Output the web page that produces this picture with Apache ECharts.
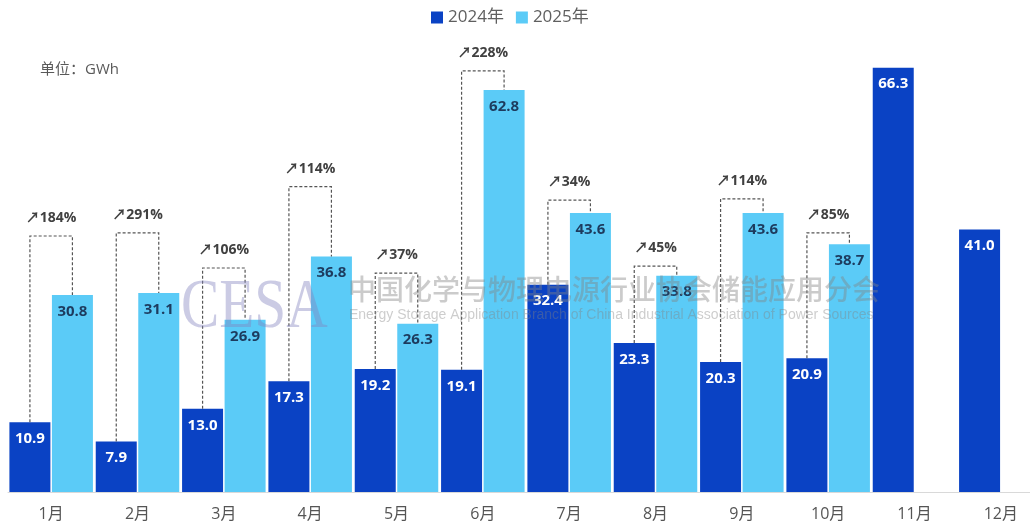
<!DOCTYPE html>
<html>
<head>
<meta charset="utf-8">
<script src="https://cdn.jsdelivr.net/npm/echarts@6/dist/echarts.min.js"></script>
<style>
  html, body { margin: 0; padding: 0; background: #ffffff; overflow: hidden; }
  #chart { width: 1050px; height: 530px; }
</style>
</head>
<body>
<div id="chart"></div>
<script>
// Monthly installed capacity, GWh
const months = ['1月', '2月', '3月', '4月', '5月', '6月', '7月', '8月', '9月', '10月', '11月', '12月'];
const values2024 = [10.9, 7.9, 13.0, 17.3, 19.2, 19.1, 32.4, 23.3, 20.3, 20.9, 66.3, 41.0];
const values2025 = [30.8, 31.1, 26.9, 36.8, 26.3, 62.8, 43.6, 33.8, 43.6, 38.7, null, null];
// Year-on-year growth callouts (Jan–Oct) and the level of each dashed bracket
const growthLabels = ['184%', '291%', '106%', '114%', '37%', '228%', '34%', '45%', '114%', '85%'];
const bracketLevel = [40.0, 40.5, 35.0, 47.7, 34.2, 65.8, 45.6, 35.3, 45.8, 40.5];

const BAR_W = 41;
const BAR_GAP = 1.5;
const FONT = '"Open Sans", "Noto Sans CJK SC", sans-serif';
const DARK = '#0A42C4';
const LIGHT = '#5BCBF7';

const bracketData = growthLabels.map((g, i) => [i, values2024[i], values2025[i], bracketLevel[i]]);

function renderBracket(params, api) {
  const i = api.value(0);
  const base = api.coord([i, 0]);
  const off = (BAR_W + BAR_GAP) / 2;
  const xL = base[0] - off;
  const xR = base[0] + off;
  const yA = api.coord([i, api.value(1)])[1];
  const yB = api.coord([i, api.value(2)])[1];
  const yT = api.coord([i, api.value(3)])[1];
  return {
    type: 'group',
    children: [
      {
        type: 'polyline',
        shape: { points: [[xL, yA], [xL, yT], [xR, yT], [xR, yB]] },
        style: { stroke: '#555555', lineWidth: 1.2, lineDash: [3, 2], fill: null }
      },
      {
        type: 'text',
        style: {
          text: '\u2197' + growthLabels[params.dataIndex],
          x: base[0], y: yT - 18,
          align: 'center', verticalAlign: 'middle',
          font: 'bold 14px ' + FONT,
          fill: '#404040'
        }
      }
    ]
  };
}

const chart = echarts.init(document.getElementById('chart'), null, { renderer: 'canvas' });

chart.setOption({
  animation: false,
  backgroundColor: '#ffffff',
  textStyle: { fontFamily: FONT },
  legend: {
    data: ['2024年', '2025年'],
    top: 4,
    left: 426,
    icon: 'rect',
    itemWidth: 12,
    itemHeight: 12,
    itemGap: 12,
    textStyle: { color: '#5f5f5f', fontSize: 17, fontFamily: FONT }
  },
  grid: { left: 8, right: 6, top: 44, bottom: 38, containLabel: false },
  xAxis: {
    type: 'category',
    data: months,
    axisLine: { lineStyle: { color: '#d9d9d9', width: 1 } },
    axisTick: { show: false },
    axisLabel: { color: '#555555', fontSize: 16, margin: 14, fontFamily: FONT }
  },
  yAxis: {
    type: 'value',
    min: 0,
    max: 70,
    show: false,
    splitLine: { show: false }
  },
  graphic: [
    {
      type: 'text', left: 40, top: 62, z: 10,
      style: { text: '单位：GWh', font: '15px ' + FONT, fill: '#595959' }
    },
    {
      type: 'text', x: 181, y: 274, z: 100, scaleX: 0.82,
      style: { text: 'CESA', font: '70px "Liberation Serif", serif', fill: 'rgba(130,130,190,0.42)' }
    },
    {
      type: 'text', x: 348, y: 275, z: 100,
      style: { text: '中国化学与物理电源行业协会储能应用分会', font: '500 28px "Noto Sans CJK SC", sans-serif', fill: 'rgba(130,130,130,0.42)' }
    },
    {
      type: 'text', x: 349, y: 308, z: 100,
      style: { text: 'Energy Storage Application Branch of China Industrial Association of Power Sources', font: '14px "Liberation Sans", sans-serif', fill: 'rgba(130,130,130,0.40)' }
    }
  ],
  series: [
    {
      name: '2024年',
      type: 'bar',
      data: values2024,
      barWidth: BAR_W,
      barGap: (BAR_GAP / BAR_W * 100).toFixed(1) + '%',
      itemStyle: { color: DARK },
      label: {
        show: true,
        position: 'insideTop',
        distance: 9,
        color: '#ffffff',
        fontSize: 15,
        fontWeight: 'bold',
        fontFamily: FONT,
        formatter: p => p.value.toFixed(1)
      }
    },
    {
      name: '2025年',
      type: 'bar',
      data: values2025,
      barWidth: BAR_W,
      itemStyle: { color: LIGHT },
      label: {
        show: true,
        position: 'insideTop',
        distance: 9,
        color: '#1d3b5e',
        fontSize: 15,
        fontWeight: 'bold',
        fontFamily: FONT,
        formatter: p => (p.value == null ? '' : p.value.toFixed(1))
      }
    },
    {
      name: 'growth',
      type: 'custom',
      data: bracketData,
      renderItem: renderBracket,
      encode: { x: 0, y: 3 },
      z: 5,
      silent: true
    }
  ]
});
</script>
</body>
</html>
